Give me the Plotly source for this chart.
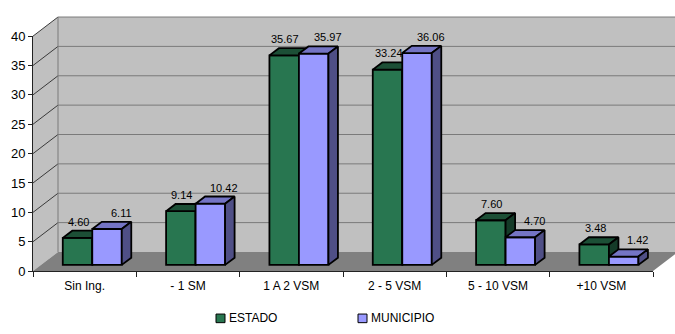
import plotly.graph_objects as go

# ---- data -------------------------------------------------------------
categories = ["Sin Ing.", "- 1 SM", "1 A 2 VSM", "2 - 5 VSM", "5 - 10 VSM", "+10 VSM"]
estado = [4.60, 9.14, 35.67, 33.24, 7.60, 3.48]
municipio = [6.11, 10.42, 35.97, 36.06, 4.70, 1.42]
y_ticks = [0, 5, 10, 15, 20, 25, 30, 35, 40]

# ---- geometry of the 3-D box (pixels) ----------------------------------
W, H = 675, 334
AX_L, AX_R = 33, 653          # front x-axis span
FLOOR_Y = 276.5               # front floor line (value 0)
PXU = 6.15                    # pixels per value unit
DEPTH_X, DEPTH_Y = 25, 20     # depth of the floor / walls
CW = (AX_R - AX_L) / len(categories)   # pixels per category
BAR_SHIFT_X, BAR_BASE_Y = 7.6, 270     # bar front plane
BW = 29.5                     # bar front width
BDX, BDY = 9.5, 7.5           # bar depth

FONT = "Liberation Sans, Arial, sans-serif"

GREEN = dict(front="#287650", top="#1c4f36", side="#143b28")
BLUE = dict(front="#9999ff", top="#7474c4", side="#4f4f86")


def px(x):
    return x / W


def py(y):
    return 1 - y / H


fig = go.Figure()

# ---- walls and floor -----------------------------------------------------
wall_top = FLOOR_Y - DEPTH_Y - 40 * PXU
back_l, back_r = AX_L + DEPTH_X, AX_R + DEPTH_X
back_floor = FLOOR_Y - DEPTH_Y
shapes = []


def poly(points, fill, line="rgba(0,0,0,0)", width=0):
    path = "M " + " L ".join(f"{px(a):.5f},{py(b):.5f}" for a, b in points) + " Z"
    return dict(type="path", path=path, xref="paper", yref="paper",
                fillcolor=fill, line=dict(color=line, width=width), layer="below")


shapes.append(poly([(back_l, wall_top), (back_r, wall_top), (back_r, back_floor), (back_l, back_floor)], "#c0c0c0"))
shapes.append(poly([(AX_L, FLOOR_Y), (AX_L, FLOOR_Y - 40 * PXU), (back_l, wall_top), (back_l, back_floor)], "#c0c0c0"))
shapes.append(poly([(AX_L, FLOOR_Y), (AX_R, FLOOR_Y), (back_r, back_floor), (back_l, back_floor)], "#808080"))

grid_col = "#7a7a7a"
for v in y_ticks[1:]:
    yb = back_floor - v * PXU
    yf = FLOOR_Y - v * PXU
    shapes.append(dict(type="line", xref="paper", yref="paper", layer="below",
                       x0=px(back_l), x1=px(back_r), y0=py(yb), y1=py(yb),
                       line=dict(color=grid_col, width=1)))
    shapes.append(dict(type="line", xref="paper", yref="paper", layer="below",
                       x0=px(AX_L), x1=px(back_l), y0=py(yf), y1=py(yb),
                       line=dict(color="#3a3a3a", width=1)))
shapes.append(dict(type="line", xref="paper", yref="paper", layer="below",
                   x0=px(back_l), x1=px(back_l), y0=py(back_floor), y1=py(wall_top),
                   line=dict(color=grid_col, width=1)))

# ---- front axes (labels, ticks) -------------------------------------------
fig.add_trace(go.Scatter(x=categories, y=[0] * len(categories), mode="markers",
                         marker=dict(opacity=0), hoverinfo="skip", showlegend=False,
                         xaxis="x", yaxis="y"))

# ---- bars in the middle depth plane ---------------------------------------
x_lo = -0.5 - (AX_L + BAR_SHIFT_X) / CW
x_hi = x_lo + W / CW
y_lo = -(H - BAR_BASE_Y) / PXU
y_hi = BAR_BASE_Y / PXU
bw = BW / CW
ddx, ddy = BDX / CW, BDY / PXU
idx = list(range(len(categories)))

annotations = []
label_dx = {"ESTADO": 1 / CW, "MUNICIPIO": 14 / CW}

for n, (name, vals, col, offset) in enumerate([
        ("ESTADO", estado, GREEN, -bw), ("MUNICIPIO", municipio, BLUE, 0.0)]):
    xa, ya = f"x{n + 2}", f"y{n + 2}"
    fig.add_trace(go.Bar(x=idx, y=vals, width=bw, offset=offset, name=name,
                         marker=dict(color=col["front"], line=dict(color="black", width=1.8)),
                         xaxis=xa, yaxis=ya, showlegend=False, hoverinfo="skip"))
    top_x, top_y, side_x, side_y = [], [], [], []
    for i, v in zip(idx, vals):
        xl = i + offset
        xr = xl + bw
        top_x += [xl, xr, xr + ddx, xl + ddx, xl, None]
        top_y += [v, v, v + ddy, v + ddy, v, None]
        side_x += [xr, xr, xr + ddx, xr + ddx, xr, None]
        side_y += [0, v, v + ddy, ddy, 0, None]
        annotations.append(dict(x=xl + bw / 2 + label_dx[name], y=v + ddy, xref=xa, yref=ya,
                                text=f"{v:.2f}", showarrow=False, yanchor="bottom", yshift=1,
                                font=dict(family=FONT, size=11, color="black")))
    for fx, fy, c in [(top_x, top_y, col["top"]), (side_x, side_y, col["side"])]:
        fig.add_trace(go.Scatter(x=fx, y=fy, mode="lines", fill="toself", fillcolor=c,
                                 line=dict(color="black", width=1.8), xaxis=xa, yaxis=ya,
                                 showlegend=False, hoverinfo="skip"))

# ---- legend ------------------------------------------------------------
legend_items = [("ESTADO", GREEN["front"], 216), ("MUNICIPIO", BLUE["front"], 358)]
for name, c, x0 in legend_items:
    shapes.append(dict(type="rect", xref="paper", yref="paper",
                       x0=px(x0), x1=px(x0 + 9), y0=py(330.5), y1=py(321.5),
                       fillcolor=c, line=dict(color="black", width=1)))
    annotations.append(dict(x=px(x0 + 11), y=py(326), xref="paper", yref="paper",
                            text=name, showarrow=False, xanchor="left", yanchor="middle",
                            font=dict(family=FONT, size=12, color="black")))

hidden = dict(visible=False, fixedrange=True)
fig.update_layout(
    width=W, height=H, margin=dict(l=0, r=0, t=0, b=0),
    paper_bgcolor="white", plot_bgcolor="rgba(0,0,0,0)",
    barmode="overlay", showlegend=False,
    shapes=shapes, annotations=annotations,
    xaxis=dict(domain=[px(AX_L), px(AX_R)], type="category", categoryorder="array",
               categoryarray=categories, range=[-0.5, len(categories) - 0.5],
               tickson="boundaries", ticks="outside", ticklen=5, tickcolor="#222",
               ticklabelstandoff=4,
               showline=True, linecolor="#222", linewidth=1, showgrid=False,
               zeroline=False, fixedrange=True,
               tickfont=dict(family=FONT, size=12, color="black")),
    yaxis=dict(domain=[py(FLOOR_Y), py(FLOOR_Y - 40 * PXU)], range=[0, 40],
               tickvals=y_ticks, ticks="outside", ticklen=4, tickcolor="#222",
               showline=True, linecolor="#222", linewidth=1, showgrid=False,
               zeroline=False, fixedrange=True,
               tickfont=dict(family=FONT, size=13, color="black")),
    xaxis2=dict(domain=[0, 1], range=[x_lo, x_hi], anchor="y2", **hidden),
    yaxis2=dict(domain=[0, 1], range=[y_lo, y_hi], anchor="x2", **hidden),
    xaxis3=dict(domain=[0, 1], range=[x_lo, x_hi], anchor="y3", **hidden),
    yaxis3=dict(domain=[0, 1], range=[y_lo, y_hi], anchor="x3", **hidden),
)

fig.write_html("out.html")
